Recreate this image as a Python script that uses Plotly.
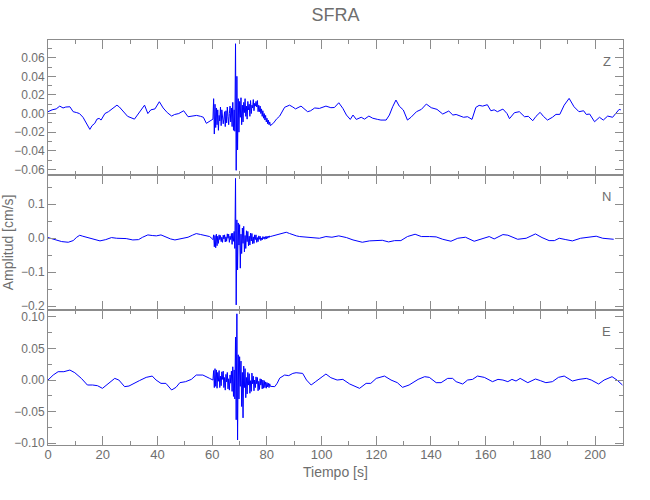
import numpy as np
import plotly.graph_objects as go

# ---------------- data ----------------
title = "SFRA"
components = ["Z", "N", "E"]

# Z component
z_pre_t = [0.0, 1.5, 3.0, 4.3, 5.5, 6.5, 8.0, 9.2, 10.5, 11.5, 12.8, 14.1, 15.3, 16.1, 17.1, 17.9,
           18.7, 19.4, 20.8, 22.1, 23.6, 25.2, 26.1, 27.6, 29.1, 31.6, 33.1, 35.3, 36.5, 37.6, 39.1,
           40.7, 42.1, 43.6, 45.2, 46.3, 47.8, 49.6, 51.2, 52.8, 54.3, 55.8, 56.8, 57.9, 59.1, 60.0]
z_pre_v = [0.002, 0.004, 0.005, 0.008, 0.006, 0.007, 0.0073, 0.002, 0.001, 0.000, -0.004, -0.010,
           -0.017, -0.013, -0.0105, -0.006, -0.0052, -0.007, 0.000, 0.002, 0.005, 0.009, 0.007,
           0.002, -0.003, -0.006, 0.000, 0.009, 0.000, 0.004, 0.005, 0.0127, 0.006, 0.001, -0.0027,
           -0.001, 0.000, 0.003, -0.0034, -0.003, -0.002, -0.003, -0.004, -0.0105, -0.008, -0.006]
z_burst = [-0.006, 0.016, -0.022, 0.010,
           -0.015, 0.006, -0.012, 0.004,
           -0.018, -0.002, -0.008, 0.007,
           -0.013, 0.004, -0.004, -0.011,
           -0.006, 0.002, -0.014, 0.003,
           -0.010, 0.007, -0.003, -0.012,
           0.000, 0.008, -0.009, 0.006,
           -0.014, 0.012, -0.018, 0.004,
           -0.019, 0.075, -0.061, 0.040,
           -0.039, 0.016, -0.020, 0.013,
           -0.004, 0.017, -0.012, 0.009,
           -0.009, 0.012, 0.001, 0.016,
           -0.003, 0.008, -0.006, 0.013,
           0.004, 0.010, -0.003, 0.014,
           0.000, 0.009, 0.006, 0.015,
           0.003, 0.011, 0.008, 0.013,
           0.007, 0.014, 0.002, 0.009,
           0.002, 0.008, 0.000, 0.005,
           -0.003, 0.003, -0.005, 0.000,
           -0.007, -0.002, -0.009, -0.005,
           -0.011, -0.007, -0.012, -0.009,
           -0.013]
z_post_t = [82.5, 83.5, 84.7, 86.5, 88.3, 89.5, 90.5, 92.5, 94.9, 96.0, 97.5, 99.2, 101.6, 103.4,
            104.7, 106.3, 107.8, 109.1, 110.5, 111.5, 112.7, 114.5, 115.7, 117.3, 118.7, 120.5,
            121.7, 123.6, 124.8, 126.0, 127.2, 128.4, 129.9, 131.4, 132.7, 134.7, 136.5, 138.3,
            140.1, 142.2, 144.3, 146.5, 148.0, 149.2, 150.4, 151.9, 153.4, 155.0, 156.4, 157.6,
            158.9, 160.6, 161.9, 163.1, 164.3, 166.3, 167.8, 168.7, 170.5, 172.3, 174.2, 175.6,
            177.2, 178.4, 179.9, 181.1, 182.6, 184.4, 185.7, 187.1, 188.7, 190.5, 192.3, 194.1,
            195.8, 196.8, 198.0, 199.8, 201.6, 203.0, 204.6, 206.4, 208.8, 209.4]
z_post_v = [-0.010, -0.006, -0.0027, 0.0067, 0.009, 0.007, 0.005, 0.008, 0.002, 0.003, 0.006,
            0.0055, 0.008, 0.0063, 0.0065, 0.0116, 0.0055, -0.0016, -0.0063, -0.0016, -0.0063,
            -0.004, -0.006, -0.0027, -0.005, -0.0063, -0.007, -0.007, -0.0016, 0.0073, 0.0145,
            0.008, 0.0038, -0.007, -0.004, 0.002, 0.0045, 0.0102, 0.0063, 0.0045, -0.0005, 0.0027,
            -0.0016, -0.001, -0.0027, -0.004, -0.0034, -0.0063, 0.0066, 0.0088, 0.008, 0.0095,
            0.003, 0.004, 0.002, 0.0048, 0.000, -0.0055, 0.0009, 0.002, -0.0034, -0.003, -0.0077,
            -0.003, 0.0013, -0.003, -0.007, -0.004, -0.0009, -0.0009, 0.009, 0.0163, 0.0073, 0.002,
            0.003, -0.001, -0.0005, -0.0088, -0.004, -0.007, -0.0027, -0.004, 0.0045, 0.004]

# N component
n_pre_t = [0.0, 2.0, 3.5, 5.0, 7.4, 9.2, 10.5, 11.6, 12.7, 14.0, 16.1, 17.1, 19.0, 21.1, 23.2,
           25.1, 26.6, 28.6, 31.0, 33.1, 34.6, 36.5, 38.1, 39.6, 41.3, 43.1, 44.8, 46.4, 48.3,
           49.8, 51.2, 52.8, 54.2, 55.8, 57.3, 59.1, 60.1]
n_pre_v = [0.002, -0.003, -0.008, -0.0098, -0.0118, -0.0069, 0.003, 0.0088, 0.006, 0.003, 0.0,
           -0.003, -0.0078, -0.004, 0.002, 0.0, -0.001, -0.001, -0.005, -0.004, 0.003, 0.0098,
           0.008, 0.007, 0.0098, 0.003, -0.002, -0.005, -0.002, 0.001, 0.003, 0.009, 0.0137,
           0.011, 0.009, 0.005, -0.002]
n_burst = [-0.004, 0.010, -0.025, 0.008,
           -0.028, 0.012, -0.022, 0.006,
           -0.015, 0.010, -0.004, 0.008,
           -0.010, 0.003, -0.012, 0.009,
           -0.002, 0.010, -0.011, 0.004,
           -0.009, 0.013, 0.000, 0.012,
           -0.012, 0.006, -0.004, 0.014,
           -0.018, 0.015, -0.009, 0.020,
           -0.030, 0.176, -0.196, 0.054,
           -0.093, 0.045, -0.020, 0.040,
           -0.088, 0.012, -0.045, 0.030,
           -0.015, 0.035, -0.040, 0.008,
           -0.030, 0.022, -0.010, 0.020,
           -0.022, 0.006, -0.020, 0.015,
           -0.008, 0.014, -0.016, 0.004,
           -0.015, 0.010, -0.004, 0.010,
           -0.012, 0.002, -0.010, 0.007,
           -0.003, 0.006, -0.007, 0.001,
           -0.005, 0.005, -0.001, 0.004,
           -0.003, 0.005, -0.002, 0.006,
           0.000, 0.006, 0.002, 0.007,
           0.005]
n_post_t = [82.2, 83.5, 84.7, 86.0, 87.1, 88.3, 89.5, 90.8, 92.0, 94.0, 95.6, 97.4, 99.2, 101.6,
            103.8, 106.3, 109.1, 111.5, 114.9, 117.5, 120.0, 122.2, 124.5, 126.7, 129.0, 131.4,
            134.2, 136.5, 139.5, 141.9, 144.3, 147.3, 149.8, 152.6, 155.8, 158.8, 161.3, 163.1,
            166.3, 168.1, 171.7, 174.8, 178.2, 180.6, 183.2, 185.1, 186.9, 189.3, 191.7, 194.7,
            197.3, 200.4, 202.8, 206.4, 206.8]
n_post_v = [0.007, 0.010, 0.0118, 0.016, 0.0176, 0.014, 0.0098, 0.007, 0.005, 0.003, 0.002, 0.0,
            0.0, 0.005, 0.003, 0.007, 0.002, -0.005, -0.0118, -0.0078, -0.006, -0.006, -0.0108,
            -0.007, -0.0069, 0.005, 0.0118, 0.005, 0.005, 0.004, -0.003, -0.0088, 0.0, 0.003,
            -0.0088, -0.002, 0.005, -0.002, 0.0108, 0.009, -0.003, 0.0, 0.0127, 0.002, -0.0069,
            -0.007, 0.0, -0.004, -0.0078, 0.0, 0.002, 0.006, 0.0, -0.003, -0.003]

# E component
e_pre_t = [0.0, 1.9, 3.7, 5.8, 8.0, 9.8, 12.2, 14.4, 16.3, 18.1, 19.9, 21.1, 22.6, 24.4, 25.9,
           28.0, 29.6, 31.7, 33.4, 35.9, 38.1, 39.5, 41.3, 43.1, 45.2, 46.8, 48.2, 50.3, 52.4,
           54.2, 56.6, 59.1, 60.1]
e_pre_v = [0.0, 0.0079, 0.0132, 0.0132, 0.0158, 0.0116, 0.0026, -0.0079, -0.0079, -0.009, -0.0132,
           -0.009, -0.0042, 0.0026, 0.0, -0.0105, -0.0095, -0.0042, -0.001, 0.0042, 0.0063, 0.0,
           -0.0053, -0.0053, -0.0158, -0.0116, -0.0042, -0.0026, 0.001, 0.0079, 0.0079, 0.0026, 0.0]
e_burst = [0.000, 0.015, -0.012, 0.018,
           -0.010, 0.016, -0.013, 0.012,
           -0.002, 0.015, -0.012, 0.006,
           -0.009, 0.013, 0.001, 0.014,
           -0.012, 0.004, -0.016, 0.009,
           -0.003, 0.012, -0.014, 0.002,
           -0.016, 0.008, -0.005, 0.014,
           -0.018, 0.021, -0.026, 0.016,
           -0.030, 0.068, -0.063, 0.105,
           -0.095, 0.040, -0.030, 0.037,
           -0.010, 0.030, -0.042, 0.012,
           -0.060, 0.022, -0.012, 0.018,
           -0.028, 0.004, -0.022, 0.012,
           -0.008, 0.010, -0.021, -0.001,
           -0.018, 0.011, -0.006, 0.006,
           -0.017, 0.000, -0.012, 0.005,
           -0.006, 0.004, -0.017, -0.002,
           -0.015, 0.002, -0.008, 0.001,
           -0.014, 0.000, -0.013, -0.001,
           -0.012, -0.003, -0.013, -0.004,
           -0.011, -0.005, -0.012, -0.006,
           -0.010]
e_post_t = [82.9, 83.8, 84.7, 86.5, 88.0, 89.5, 90.7, 92.0, 93.1, 94.5, 96.2, 97.7, 99.2, 100.5,
            101.6, 103.4, 105.7, 107.8, 110.3, 113.9, 116.3, 118.0, 120.0, 123.0, 125.4, 127.7,
            129.6, 132.0, 135.3, 137.7, 139.4, 141.9, 143.7, 146.1, 147.9, 149.2, 151.6, 153.4,
            155.2, 157.0, 159.5, 162.5, 164.5, 166.3, 168.1, 169.6, 171.1, 172.6, 175.4, 178.2,
            180.0, 182.0, 184.4, 186.6, 188.7, 191.7, 194.1, 196.8, 198.6, 201.3, 203.3, 206.2,
            208.0, 210.0]
e_post_v = [-0.0105, -0.005, 0.003, 0.0079, 0.007, 0.0105, 0.0116, 0.0116, 0.0105, 0.0, -0.0079,
            -0.003, 0.0026, 0.006, 0.0095, 0.0037, 0.0, 0.001, -0.0063, -0.0132, -0.0053, -0.0053,
            0.0026, 0.0063, 0.0, -0.0042, -0.0116, -0.0079, 0.001, 0.0053, 0.0042, -0.0042,
            -0.0042, 0.0026, 0.0026, -0.0026, -0.0063, 0.0, 0.001, 0.0063, 0.0042, -0.0026, 0.001,
            0.0, -0.0026, 0.001, -0.0016, 0.0026, -0.0042, 0.0016, -0.001, -0.0042, -0.0026,
            0.0042, 0.0063, -0.0016, 0.001, 0.0026, 0.0, -0.0063, 0.0, 0.0053, 0.0, -0.0079]

burst_start, burst_end = 60.3, 81.3   # seconds covered by the densely read burst samples

y_ranges = {"Z": [-0.066, 0.079], "N": [-0.211, 0.186], "E": [-0.103, 0.111]}
y_dticks = {"Z": 0.02, "N": 0.1, "E": 0.05}
y_formats = {"Z": ".2f", "N": ".1f", "E": ".2f"}
x_range = [0, 210.2]
x_title = "Tiempo [s]"
y_title = "Amplitud [cm/s]"

# ---------------- build ----------------
def series(pre_t, pre_v, burst, post_t, post_v):
    bt = np.linspace(burst_start, burst_end, len(burst))
    t = np.concatenate([pre_t, bt, post_t])
    v = np.concatenate([pre_v, burst, post_v])
    return t, v

data = {
    "Z": series(z_pre_t, z_pre_v, z_burst, z_post_t, z_post_v),
    "N": series(n_pre_t, n_pre_v, n_burst, n_post_t, n_post_v),
    "E": series(e_pre_t, e_pre_v, e_burst, e_post_t, e_post_v),
}

FONT = "Liberation Sans Narrow, Liberation Sans, DejaVu Sans Condensed, sans-serif"
GRAY = "#6e6e6e"
AXC = "#8c8c8c"

fig = go.Figure()
domains = {"Z": [2/3, 1.0], "N": [1/3, 2/3], "E": [0.0, 1/3]}
for i, comp in enumerate(components):
    idx = "" if i == 0 else str(i + 1)
    t, v = data[comp]
    fig.add_trace(go.Scatter(x=t, y=v, mode="lines", line=dict(color="#0000ff", width=1),
                             xaxis="x" + idx, yaxis="y" + idx, showlegend=False,
                             hoverinfo="skip"))
    fig.layout["xaxis" + idx] = dict(
        domain=[0, 1], anchor="y" + idx, range=x_range, dtick=20, tick0=0,
        ticks="inside", ticklen=9, tickcolor=AXC, showline=True, linecolor=AXC, linewidth=1,
        mirror="ticks", showgrid=False, zeroline=False, automargin=False,
        showticklabels=(comp == "E"), ticklabelstandoff=-3,
        minor=dict(dtick=10, ticklen=4, ticks="inside", tickcolor=AXC, showgrid=False),
        tickfont=dict(family=FONT, size=13, color=GRAY),
        matches=None if i == 0 else "x",
    )
    fig.layout["yaxis" + idx] = dict(
        domain=domains[comp], anchor="x" + idx, range=y_ranges[comp],
        dtick=y_dticks[comp], tick0=0, tickformat=y_formats[comp],
        ticks="inside", ticklen=8, tickcolor=AXC, showline=True, linecolor=AXC, linewidth=1,
        mirror="ticks", showgrid=False, zeroline=False, automargin=False,
        minor=dict(dtick=y_dticks[comp] / 2, ticklen=4, ticks="inside", tickcolor=AXC,
                   showgrid=False),
        tickfont=dict(family=FONT, size=12, color=GRAY),
    )
    fig.add_annotation(text=comp, xref="paper", yref="paper", x=0.972,
                       y=domains[comp][1] - 0.03, xanchor="center", yanchor="top",
                       showarrow=False, font=dict(family=FONT, size=13, color=GRAY))

fig.add_annotation(text=x_title, xref="paper", yref="paper", x=0.5, y=-0.066,
                   xanchor="center", yanchor="middle", showarrow=False,
                   font=dict(family=FONT, size=14, color=GRAY))
fig.add_annotation(text=y_title, xref="paper", yref="paper", x=-0.07, y=0.5,
                   xanchor="center", yanchor="middle", textangle=-90, showarrow=False,
                   font=dict(family=FONT, size=14, color=GRAY))

fig.update_layout(
    width=650, height=500,
    margin=dict(l=48, r=27, t=40, b=55, autoexpand=False),
    paper_bgcolor="white", plot_bgcolor="white",
    title=dict(text=title, x=0.516, xanchor="center", y=0.97, yanchor="middle",
               font=dict(family=FONT, size=18, color=GRAY)),
    showlegend=False,
)

fig.write_html("out.html", config={"displayModeBar": False},
               post_script="document.body.style.margin='0px';document.body.style.padding='0px';")
